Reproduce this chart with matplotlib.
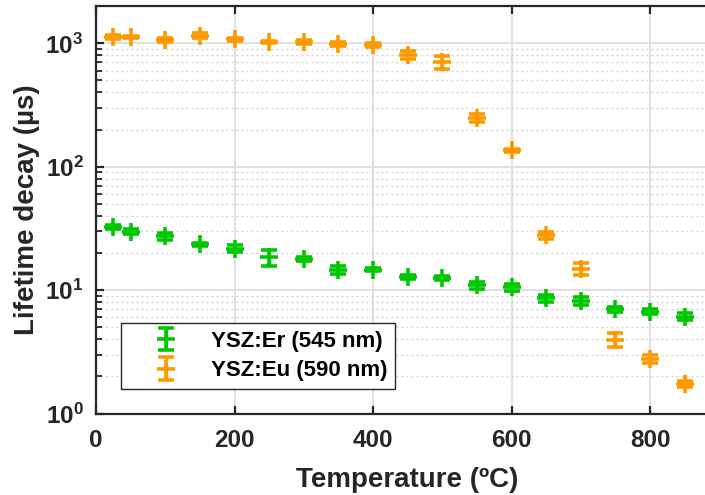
import math
import matplotlib
matplotlib.use("Agg")
import matplotlib.pyplot as plt
from matplotlib.ticker import FixedLocator, FuncFormatter, LogLocator, NullFormatter

# Temperature steps (ºC)
temperature = [25, 50, 100, 150, 200, 250, 300, 350, 400, 450,
               500, 550, 600, 650, 700, 750, 800, 850]

# YSZ:Er, emission at 545 nm – lifetime (µs) and uncertainty
er_lifetime = [32.5, 29.8, 27.3, 23.5, 21.6, 18.4, 17.8, 14.6, 14.6, 12.7,
               12.5, 11.0, 10.5, 8.6, 8.2, 7.0, 6.7, 6.1]
er_error = [1.2, 1.2, 1.9, 0.6, 1.4, 2.7, 0.6, 1.0, 0.4, 0.5,
            0.4, 0.7, 0.7, 0.6, 0.6, 0.3, 0.3, 0.4]

# YSZ:Eu, emission at 590 nm – lifetime (µs) and uncertainty
eu_lifetime = [1130, 1130, 1068, 1157, 1081, 1028, 1028, 990, 972, 807,
               705, 248, 136, 27.8, 14.9, 3.97, 2.77, 1.74]
eu_error = [45, 20, 40, 50, 30, 20, 40, 40, 30, 60,
            90, 18, 4, 2.0, 1.7, 0.5, 0.2, 0.1]

series_labels = ["YSZ:Er (545 nm)", "YSZ:Eu (590 nm)"]
x_ticks = [0, 200, 400, 600, 800]
y_ticks = [1, 10, 100, 1000]

GREEN = "#00C800"
ORANGE = "#FF9900"
DARK = "#262626"

plt.rcParams["font.family"] = ["Liberation Sans", "DejaVu Sans"]
plt.rcParams["font.weight"] = "bold"
plt.rcParams["mathtext.fontset"] = "custom"
plt.rcParams["mathtext.rm"] = "Liberation Sans:bold"
plt.rcParams["mathtext.it"] = "Liberation Sans:bold"
plt.rcParams["mathtext.bf"] = "Liberation Sans:bold"

W, H = 705, 495
fig = plt.figure(figsize=(W / 100, H / 100), dpi=100)
fig.patch.set_facecolor("white")

# axes frame in pixels: x 0..900 spans 96..719, y 1..2000 spans 413.5..6.2
x0, x1 = 96, 719.3
y_bot, y_top = 413.5, 6.2
ax = fig.add_axes([x0 / W, (H - y_bot) / H, (x1 - x0) / W, (y_bot - y_top) / H])

style = dict(fmt="+", markersize=12.5, markeredgewidth=2.6, elinewidth=2.3,
             capsize=5.8, capthick=2.8, linestyle="none")
h_er = ax.errorbar(temperature, er_lifetime, yerr=er_error, color=GREEN,
                   label=series_labels[0], **style)
h_eu = ax.errorbar(temperature, eu_lifetime, yerr=eu_error, color=ORANGE,
                   label=series_labels[1], **style)

ax.set_yscale("log")
ax.set_xlim(0, 900)
ax.set_ylim(1, 2000)

ax.xaxis.set_major_locator(FixedLocator(x_ticks))
ax.yaxis.set_major_locator(FixedLocator(y_ticks))
ax.yaxis.set_minor_locator(LogLocator(base=10, subs=range(2, 10), numticks=20))
ax.yaxis.set_minor_formatter(NullFormatter())
ax.yaxis.set_major_formatter(
    FuncFormatter(lambda v, p: r"$\mathrm{10^{%d}}$" % round(math.log10(v))))

ax.tick_params(axis="both", which="major", direction="in", length=6, width=1.6,
               colors=DARK, labelsize=17.5, top=True, right=True)
ax.tick_params(axis="x", which="major", pad=11)
ax.tick_params(axis="y", which="major", pad=9)
ax.tick_params(axis="y", which="minor", direction="in", length=4, width=1.3,
               colors=DARK, right=True)
for lbl in ax.get_xticklabels() + ax.get_yticklabels():
    lbl.set_fontweight("bold")

for sp in ax.spines.values():
    sp.set_color(DARK)
    sp.set_linewidth(1.6)

ax.set_axisbelow(True)
ax.grid(True, which="major", color="#e0e0e0", linewidth=1.4)
ax.yaxis.grid(True, which="minor", color="#cfcfcf", linewidth=1.0,
              linestyle=(0, (1.3, 2.3)))

ax.set_xlabel("Temperature (ºC)", fontsize=20, fontweight="bold", color=DARK,
              labelpad=11)
ax.set_ylabel("Lifetime decay (µs)", fontsize=20, fontweight="bold", color=DARK,
              labelpad=4)

leg = ax.legend(handles=[h_er, h_eu], loc="lower left",
                bbox_to_anchor=(0.04, 0.06), borderaxespad=0,
                fancybox=False, framealpha=1, edgecolor=DARK,
                prop={"size": 16, "weight": "bold"},
                handlelength=3.4, handletextpad=0.3, borderpad=0.35,
                labelspacing=0.38)
leg.get_frame().set_linewidth(1.0)
for t in leg.get_texts():
    t.set_color("black")

fig.savefig("out.png", dpi=100)
